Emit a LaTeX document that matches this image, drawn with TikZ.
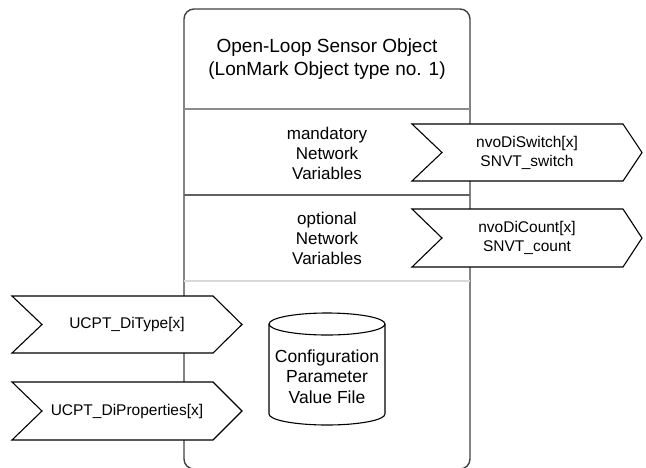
\documentclass[tikz,border=0pt]{standalone}
\usepackage{fontspec}
\setmainfont{Liberation Sans}
\tikzset{
  chev/.style={draw=black, fill=white, line width=1.1pt, line join=miter},
  chevtext/.style={align=center, inner sep=0pt, font=\fontsize{15.5}{19}\selectfont},
  parttext/.style={align=center, inner sep=0pt, font=\fontsize{17}{20}\selectfont},
  divider/.style={line width=1.4pt}
}
\begin{document}
\begin{tikzpicture}[x=1pt, y=-1pt]
\useasboundingbox (0,0) rectangle (646,467);
\draw[line width=1.4pt, draw=black!75, rounded corners=10pt](184,9) rectangle (470,469);
\draw[divider, draw=black!45](184,109)--(470,109);
\draw[divider, draw=black!62](184,195)--(470,195);
\draw[divider, draw=black!15](184,281)--(470,281);
\node[align=center, inner sep=0pt, font=\fontsize{19}{23}\selectfont] (title) at (327,59)
    {Open-Loop Sensor Object\\(LonMark Object type no. 1)};
\node[parttext] (mand) at (327,153) {mandatory\\Network\\Variables};
\node[parttext] (opt) at (327,238.5) {optional\\Network\\Variables};
% network variables
\draw[chev](412,124)--(623,124)--(642,152.5)--(623,181)--(412,181)--(442,152.5)--cycle;
\node[chevtext] (nvswitch) at (527,152.5) {nvoDiSwitch[x]\\SNVT\_switch};
\draw[chev](412,209)--(623,209)--(642,238)--(623,267)--(412,267)--(442,238)--cycle;
\node[chevtext] (nvcount) at (527,238) {nvoDiCount[x]\\SNVT\_count};
% configuration properties
\draw[chev](12,296)--(213,296)--(242,324.5)--(213,353)--(12,353)--(42,324.5)--cycle;
\node[chevtext] (cptype) at (127,324.5) {UCPT\_DiType[x]};
\draw[chev](12,382)--(213,382)--(242,411)--(213,440)--(12,440)--(42,411)--cycle;
\node[chevtext] (cpprop) at (127,411) {UCPT\_DiProperties[x]};
% value file
\draw[line width=1.1pt](269,324)--(269,414) arc[start angle=180, end angle=360, x radius=58pt, y radius=11pt]--(385,324);
\draw[line width=1.1pt](327,324) ellipse[x radius=58pt, y radius=11pt];
\node[parttext, font=\fontsize{17.5}{20.5}\selectfont] (filetext) at (327,376.5)
    {Configuration\\Parameter\\Value File};
\end{tikzpicture}
\end{document}
